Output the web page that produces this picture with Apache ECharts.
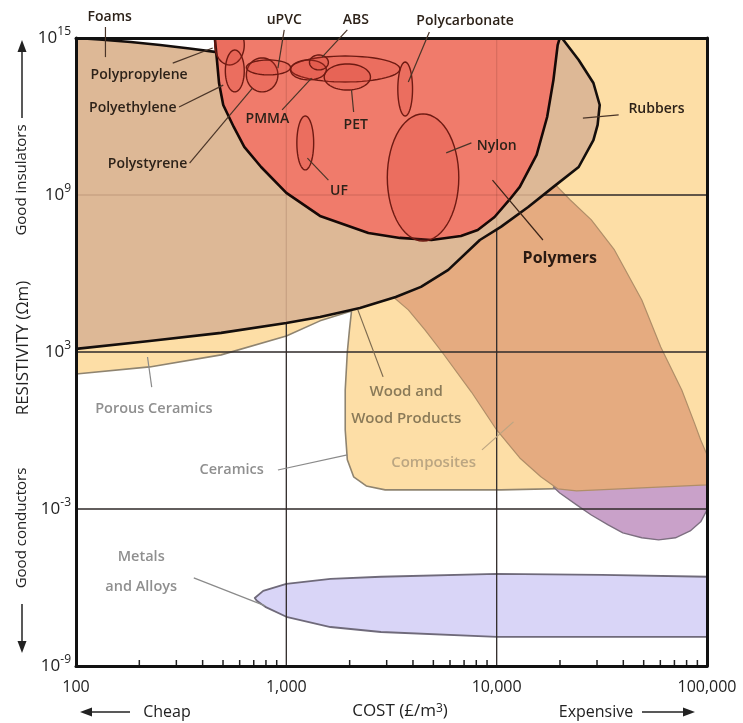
<!DOCTYPE html>
<html lang="en">
<head>
<meta charset="UTF-8">
<title>Resistivity vs cost</title>
<script src="https://cdn.jsdelivr.net/npm/echarts/dist/echarts.min.js"></script>
<style>
  html, body { margin: 0; padding: 0; background: #fff; }
  #chart { width: 743px; height: 723px; }
</style>
</head>
<body>
<div id="chart"></div>
<script>
// both axes are in log10 units: x = log10(cost, £/m3), y = log10(resistivity, ohm m)
const costTicks = [2, 3, 4, 5];
const costTickLabels = ['100', '1,000', '10,000', '100,000'];
const resTicks = [-9, -3, 3, 9, 15];
const minorSteps = [2, 3, 4, 5, 6, 7, 8, 9];

// material family outlines, [log10 cost, log10 resistivity]
const ceramicsWood = [
  [2.00, 3.84], [2.00, 2.16], [2.35, 2.43], [2.69, 2.89], [3.00, 3.61], [3.16, 4.19], [3.31, 4.57],
  [3.30, 3.84], [3.29, 3.00], [3.28, 1.55], [3.28, 0.02], [3.29, -1.12], [3.32, -1.77], [3.38, -2.12],
  [3.47, -2.27], [4.02, -2.27], [4.50, -2.19], [5.00, -2.08], [5.00, 15.00], [4.30, 15.00],
  [4.02, 8.81], [3.54, 5.56], [3.00, 4.53]
];
const semiconductors = [
  [4.27, -2.16], [4.30, -2.39], [4.38, -2.84], [4.45, -3.23], [4.53, -3.61], [4.60, -3.91], [4.69, -4.10],
  [4.77, -4.18], [4.85, -4.10], [4.92, -3.84], [4.97, -3.49], [5.00, -3.04], [5.00, -1.81], [4.59, -1.89]
];
const composites = [
  [3.47, 5.37], [3.58, 4.61], [3.66, 3.84], [3.74, 3.00], [3.88, 1.47], [4.00, 0.02], [4.11, -1.05],
  [4.21, -1.77], [4.29, -2.23], [4.38, -2.31], [4.69, -2.19], [5.00, -2.08], [5.00, -0.93], [4.97, -0.36],
  [4.94, 0.29], [4.88, 1.55], [4.78, 3.19], [4.69, 4.99], [4.56, 6.90], [4.45, 8.05], [4.35, 8.81],
  [4.21, 9.96], [3.92, 8.05]
];
const metals = [
  [2.85, -6.40], [2.89, -6.13], [3.00, -5.86], [3.21, -5.67], [3.45, -5.59], [4.00, -5.48], [4.50, -5.52],
  [5.00, -5.59], [5.00, -7.89], [4.50, -7.89], [4.00, -7.89], [3.45, -7.70], [3.21, -7.51], [3.00, -7.12],
  [2.90, -6.74], [2.86, -6.51]
];
const polymers = [
  [2.00, 15.00], [2.11, 14.94], [2.26, 14.85], [2.40, 14.73], [2.54, 14.60], [2.66, 14.47], [2.83, 14.08],
  [3.54, 13.01], [4.21, 14.35], [4.29, 15.00], [4.31, 15.00], [4.39, 14.16], [4.46, 13.28], [4.49, 12.44],
  [4.48, 11.68], [4.46, 11.10], [4.39, 10.07], [4.27, 9.31], [4.15, 8.54], [4.02, 7.78], [3.92, 7.28],
  [3.77, 6.14], [3.64, 5.49], [3.52, 5.10], [3.35, 4.68], [3.16, 4.34], [3.00, 4.11], [2.69, 3.73],
  [2.35, 3.42], [2.00, 3.12]
];
const thermoplastics = [
  [2.66, 15.00], [2.67, 14.16], [2.68, 13.28], [2.70, 12.44], [2.75, 11.60], [2.80, 10.84], [2.88, 10.07],
  [3.00, 9.08], [3.16, 8.20], [3.39, 7.55], [3.54, 7.36], [3.69, 7.28], [3.83, 7.43], [3.91, 7.66],
  [3.99, 8.16], [4.06, 8.81], [4.11, 9.31], [4.19, 10.53], [4.24, 11.98], [4.27, 13.40], [4.29, 14.73],
  [4.30, 15.00]
];

// single polymers as ellipses: [cost lo, cost hi, res lo, res hi] (log10)
const polymerGrades = [
  [3.02, 3.54, 13.32, 14.31],
  [3.02, 3.19, 13.40, 14.16],
  [3.18, 3.40, 13.01, 14.01],
  [3.11, 3.20, 13.78, 14.35],
  [2.66, 2.80, 13.97, 15.50],
  [2.71, 2.80, 12.94, 14.54],
  [2.81, 2.96, 12.94, 14.24],
  [2.81, 3.02, 13.59, 14.16],
  [3.53, 3.60, 12.02, 14.08],
  [3.05, 3.13, 9.96, 12.02],
  [3.48, 3.82, 7.24, 12.10]
];

// annotations: label anchor and leader line, in the same log10 units
const notes = [
  { text: 'Foams', at: [2.16, 15.80], line: [[2.14, 15.42], [2.14, 14.27]], kind: 'poly' },
  { text: 'uPVC', at: [2.99, 15.69], line: [[2.99, 15.31], [2.96, 13.85]], kind: 'poly' },
  { text: 'ABS', at: [3.33, 15.69], line: [[3.29, 15.31], [3.17, 14.27]], kind: 'poly' },
  { text: 'Polycarbonate', at: [3.85, 15.65], line: [[3.68, 15.23], [3.58, 13.32]], kind: 'poly' },
  { text: 'Polypropylene', at: [2.30, 13.59], line: [[2.46, 14.04], [2.65, 14.62]], kind: 'poly' },
  { text: 'Polyethylene', at: [2.27, 12.33], line: [[2.49, 12.36], [2.70, 13.20]], kind: 'poly' },
  { text: 'Polystyrene', at: [2.34, 10.19], line: [[2.54, 10.22], [2.84, 13.09]], kind: 'poly' },
  { text: 'PMMA', at: [2.91, 11.90], line: [[2.98, 12.25], [3.12, 13.47]], kind: 'poly' },
  { text: 'PET', at: [3.33, 11.68], line: [[3.32, 12.17], [3.31, 13.01]], kind: 'poly' },
  { text: 'UF', at: [3.25, 9.15], line: [[3.20, 9.57], [3.10, 10.41]], kind: 'poly' },
  { text: 'Nylon', at: [4.00, 10.87], line: [[3.88, 10.99], [3.76, 10.61]], kind: 'poly' },
  { text: 'Rubbers', at: [4.76, 12.29], line: [[4.58, 12.06], [4.41, 11.94]], kind: 'poly' },
  { text: 'Polymers', at: [4.30, 6.56], line: [[4.22, 7.28], [3.98, 9.57]], kind: 'big' },
  { text: 'Porous Ceramics', at: [2.37, 0.82], line: [[2.36, 1.66], [2.34, 2.81]], kind: 'grey' },
  { text: 'Wood and\nWood Products', at: [3.57, 0.98], line: [[3.46, 2.05], [3.34, 4.61]], kind: 'wood' },
  { text: 'Composites', at: [3.70, -1.24], line: [[3.93, -0.74], [4.08, 0.33]], kind: 'comp' },
  { text: 'Ceramics', at: [2.74, -1.51], line: [[2.96, -1.51], [3.29, -0.93]], kind: 'grey' },
  { text: 'Metals\nand Alloys', at: [2.31, -5.40], line: [[2.56, -5.63], [2.90, -6.70]], kind: 'grey' }
];

const FONT = '"Open Sans", "DejaVu Sans", sans-serif';
const noteStyle = {
  poly: { font: '600 14px ' + FONT, color: '#2d2219', line: '#4a3528', lh: 18 },
  big: { font: '700 16px ' + FONT, color: '#2a1a12', line: '#3a2418', lh: 20 },
  grey: { font: '600 14.5px ' + FONT, color: '#8f8f8f', line: '#8a8a8a', lh: 30 },
  wood: { font: '600 15px ' + FONT, color: '#8a7a58', line: '#7d6b50', lh: 27 },
  comp: { font: '600 15px ' + FONT, color: '#bba682', line: '#bca582', lh: 20 }
};

const xMin = costTicks[0], xMax = costTicks[costTicks.length - 1];
const yMin = resTicks[0], yMax = resTicks[resTicks.length - 1];

function area(pts, fill, stroke, width) {
  return {
    type: 'custom', silent: true, clip: true,
    data: pts,
    renderItem: function (params, api) {
      if (params.dataIndex !== 0) return null;
      return {
        type: 'polygon',
        shape: { points: pts.map(p => api.coord(p)) },
        style: { fill: fill, stroke: stroke, lineWidth: width, lineJoin: 'round' }
      };
    }
  };
}

// grid lines as a series, so they can sit between the fields
function gridLines(color, width) {
  return {
    type: 'custom', silent: true, clip: true,
    data: costTicks.slice(1, -1).map(v => [v, 0]).concat(resTicks.slice(1, -1).map(v => [0, v])),
    renderItem: function (params, api) {
      const vx = api.value(0), vy = api.value(1);
      const a = vx ? api.coord([vx, yMin]) : api.coord([xMin, vy]);
      const b = vx ? api.coord([vx, yMax]) : api.coord([xMax, vy]);
      return { type: 'line', shape: { x1: a[0], y1: a[1], x2: b[0], y2: b[1] },
        style: { stroke: color, lineWidth: width } };
    }
  };
}

let chart = echarts.init(document.getElementById('chart'));

let option = {
  animation: false,
  grid: { left: 76, right: 36, top: 38, bottom: 57, containLabel: false },
  xAxis: [{
    type: 'value', min: xMin, max: xMax, interval: 1, z: 5,
    axisLine: { onZero: false, lineStyle: { color: '#111', width: 3 } },
    axisTick: { show: false },
    splitLine: { show: false },
    axisLabel: {
      margin: 13, color: '#222', fontSize: 16, fontFamily: FONT,
      formatter: v => costTickLabels[costTicks.indexOf(Math.round(v))] || ''
    }
  }, {
    type: 'value', position: 'top', min: xMin, max: xMax, z: 5,
    axisLine: { show: true, onZero: false, lineStyle: { color: '#111', width: 3 } },
    axisTick: { show: false }, axisLabel: { show: false }, splitLine: { show: false }
  }],
  yAxis: [{
    type: 'value', min: yMin, max: yMax, interval: 6, z: 5,
    axisLine: { onZero: false, lineStyle: { color: '#111', width: 3 } },
    axisTick: { show: false },
    splitLine: { show: false },
    axisLabel: {
      margin: 5,
      formatter: v => '{b|10}{s|' + v + '}',
      rich: {
        b: { fontSize: 17, fontFamily: FONT, color: '#222', lineHeight: 24 },
        s: { fontSize: 12, fontFamily: FONT, color: '#222', verticalAlign: 'top', lineHeight: 13 }
      }
    }
  }, {
    type: 'value', position: 'right', min: yMin, max: yMax, z: 5,
    axisLine: { show: true, onZero: false, lineStyle: { color: '#111', width: 3 } },
    axisTick: { show: false }, axisLabel: { show: false }, splitLine: { show: false }
  }],
  series: [
    area(ceramicsWood, '#fddea6', '#8f8470', 1.6),
    area(semiconductors, '#c9a1c9', '#7d6f80', 1.4),
    area(composites, '#e5ab80', '#b08e68', 1.2),
    area(metals, '#d9d5f7', '#6f6a7a', 1.8),
    gridLines('#333', 1.3),
    {
      // minor ticks of the log cost axis
      type: 'custom', silent: true, clip: false,
      data: [2, 3, 4].flatMap(d => minorSteps.map(k => [d + Math.log10(k), yMin])),
      renderItem: function (params, api) {
        const p = api.coord([api.value(0), yMin]);
        return { type: 'line', shape: { x1: p[0], y1: p[1], x2: p[0], y2: p[1] - 6 },
          style: { stroke: '#222', lineWidth: 1.5 } };
      }
    },
    area(polymers, '#ddb896', '#140e0c', 2.6),
    area(thermoplastics, '#f07b6b', '#160806', 2.6),
    gridLines('rgba(60,20,10,0.12)', 1.3),
    {
      type: 'custom', silent: true, clip: true,
      data: polymerGrades,
      renderItem: function (params, api) {
        const a = api.coord([api.value(0), api.value(2)]);
        const c = api.coord([api.value(1), api.value(3)]);
        const cx = (a[0] + c[0]) / 2, cy = (a[1] + c[1]) / 2;
        const rx = Math.abs(c[0] - a[0]) / 2, ry = Math.abs(c[1] - a[1]) / 2;
        const pts = [];
        for (let i = 0; i < 60; i++) {
          const t = i / 60 * Math.PI * 2;
          pts.push([cx + rx * Math.cos(t), cy + ry * Math.sin(t)]);
        }
        return { type: 'polygon', shape: { points: pts },
          style: { fill: 'rgba(214,62,50,0.2)', stroke: '#6e1a12', lineWidth: 1.4 } };
      }
    },
    {
      type: 'custom', silent: true, clip: false, z: 8,
      data: notes.map((n, i) => [n.at[0], n.at[1], i]),
      renderItem: function (params, api) {
        const n = notes[params.dataIndex];
        const st = noteStyle[n.kind];
        const p = api.coord(n.at);
        return {
          type: 'group',
          children: [{
            type: 'polyline',
            shape: { points: n.line.map(q => api.coord(q)) },
            style: { stroke: st.line, lineWidth: 1.2, fill: null }
          }, {
            type: 'text', x: p[0], y: p[1],
            style: { text: n.text, font: st.font, fill: st.color, align: 'center',
              verticalAlign: 'middle', lineHeight: st.lh }
          }]
        };
      }
    }
  ],
  graphic: [
    { type: 'text', x: 23, y: 348, rotation: Math.PI / 2,
      style: { text: 'RESISTIVITY (Ωm)', font: '17px ' + FONT, fill: '#222', align: 'center', verticalAlign: 'middle' } },
    { type: 'text', x: 22, y: 180, rotation: Math.PI / 2,
      style: { text: 'Good insulators', font: '15px ' + FONT, fill: '#222', align: 'center', verticalAlign: 'middle' } },
    { type: 'line', shape: { x1: 22, y1: 118, x2: 22, y2: 50 }, style: { stroke: '#222', lineWidth: 1.5 } },
    { type: 'polygon', shape: { points: [[22, 40], [17.5, 52], [26.5, 52]] }, style: { fill: '#222' } },
    { type: 'text', x: 22, y: 528, rotation: Math.PI / 2,
      style: { text: 'Good conductors', font: '15px ' + FONT, fill: '#222', align: 'center', verticalAlign: 'middle' } },
    { type: 'line', shape: { x1: 22, y1: 604, x2: 22, y2: 642 }, style: { stroke: '#222', lineWidth: 1.5 } },
    { type: 'polygon', shape: { points: [[22, 653], [17.5, 641], [26.5, 641]] }, style: { fill: '#222' } },
    { type: 'line', shape: { x1: 90, y1: 712, x2: 130, y2: 712 }, style: { stroke: '#222', lineWidth: 1.5 } },
    { type: 'polygon', shape: { points: [[80, 712], [92, 707.5], [92, 716.5]] }, style: { fill: '#222' } },
    { type: 'text', x: 167, y: 712,
      style: { text: 'Cheap', font: '16px ' + FONT, fill: '#222', align: 'center', verticalAlign: 'middle' } },
    { type: 'text', x: 400, y: 711,
      style: { text: 'COST (£/m{s|3})', font: '17px ' + FONT, fill: '#222', align: 'center', verticalAlign: 'middle',
        rich: { s: { font: '12px ' + FONT, fill: '#222', verticalAlign: 'top', lineHeight: 14 } } } },
    { type: 'text', x: 596, y: 712,
      style: { text: 'Expensive', font: '16px ' + FONT, fill: '#222', align: 'center', verticalAlign: 'middle' } },
    { type: 'line', shape: { x1: 642, y1: 712, x2: 684, y2: 712 }, style: { stroke: '#222', lineWidth: 1.5 } },
    { type: 'polygon', shape: { points: [[695, 712], [683, 707.5], [683, 716.5]] }, style: { fill: '#222' } }
  ]
};

chart.setOption(option);
</script>
</body>
</html>
